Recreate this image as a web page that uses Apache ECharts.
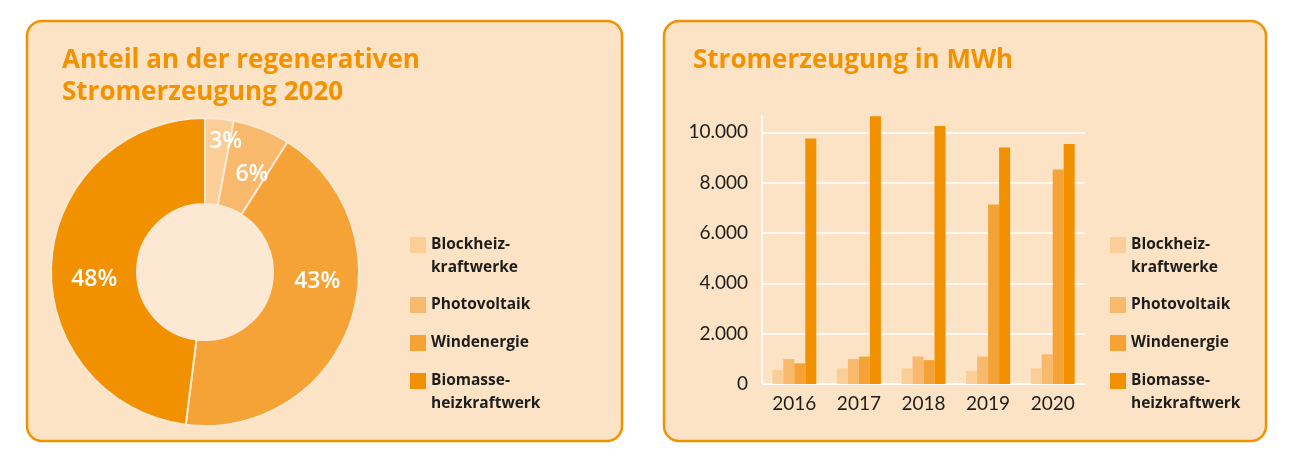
<!DOCTYPE html>
<html>
<head>
    <meta charset="utf-8">
    <title>Stromerzeugung</title>
    <script src="https://cdn.jsdelivr.net/npm/echarts@6/dist/echarts.min.js"></script>
    <style>
        html, body { margin: 0; padding: 0; background: #fff; }
        #main { width: 1293px; height: 457px; }
    </style>
</head>
<body>
<div id="main"></div>
<script>
    // Kategorien / Legende
    var sources = ['Blockheiz-\nkraftwerke', 'Photovoltaik', 'Windenergie', 'Biomasse-\nheizkraftwerk'];
    var colors = ['#FBCE97', '#F8B96C', '#F5A336', '#F29100'];

    // Anteil 2020 in Prozent (Ring)
    var shares2020 = [3, 6, 43, 48];

    // Stromerzeugung in MWh (Balken)
    var years = ['2016', '2017', '2018', '2019', '2020'];
    var bhkw = [560, 620, 620, 520, 620];
    var photovoltaik = [990, 990, 1090, 1090, 1180];
    var wind = [820, 1090, 950, 7130, 8520];
    var biomasse = [9760, 10640, 10250, 9400, 9540];
    var yTicks = [0, 2000, 4000, 6000, 8000, 10000];

    var barValues = [bhkw, photovoltaik, wind, biomasse];
    var headFont = '"Open Sans", Lato, sans-serif';
    var axisFont = 'Lato, "Open Sans", sans-serif';
    var dark = '#1d1d1b';

    var chart = echarts.init(document.getElementById('main'));

    // eine Legende pro Eintrag, damit das Kaestchen an der ersten Zeile steht
    var iconTops = [236, 296, 334, 372];
    var legends = [];
    [410, 1110].forEach(function (x) {
        sources.forEach(function (name, i) {
            var twoLines = name.indexOf('\n') >= 0;
            legends.push({
                data: [name],
                left: x,
                top: iconTops[i] - (twoLines ? 25.5 : 2.5),
                orient: 'vertical',
                padding: 0,
                itemWidth: 16,
                itemHeight: 16,
                selectedMode: false,
                icon: 'rect',
                // leere erste Zeile -> Kaestchen mittig zur ersten Textzeile
                formatter: function (n) { return twoLines ? '\n' + n : n; },
                textStyle: {
                    fontFamily: headFont,
                    fontSize: 15.5,
                    fontWeight: 'bold',
                    color: dark,
                    lineHeight: 23
                }
            });
        });
    });

    // Verschiebung der Prozentangaben wie im Original
    var labelShift = [[10, -17], [5, 8], [5, -29], [3, 15]];

    var series = [{
        type: 'pie',
        center: [205, 272],
        radius: [68, 154],
        startAngle: 90,
        clockwise: true,
        silent: true,
        itemStyle: { borderColor: '#FDE9D3', borderWidth: 2 },
        label: {
            position: 'inside',
            formatter: '{c}%',
            color: '#fff',
            fontFamily: headFont,
            fontSize: 23,
            fontWeight: 600
        },
        labelLine: { show: false },
        labelLayout: function (p) {
            var s = labelShift[p.dataIndex];
            return { dx: s[0], dy: s[1] };
        },
        data: sources.map(function (name, i) {
            return { name: name, value: shares2020[i], itemStyle: { color: colors[i] } };
        })
    }];

    sources.forEach(function (name, i) {
        series.push({
            type: 'bar',
            name: name,
            barWidth: 11,
            barGap: '0%',
            silent: true,
            itemStyle: { color: colors[i] },
            data: barValues[i]
        });
    });

    chart.setOption({
        animation: false,
        backgroundColor: '#fff',
        graphic: [
            { type: 'rect', z: -10, shape: { x: 27, y: 21, width: 595, height: 420, r: 15 },
              style: { fill: '#FDE3C5', stroke: '#F39200', lineWidth: 2.5 } },
            { type: 'rect', z: -10, shape: { x: 664, y: 21, width: 602, height: 420, r: 15 },
              style: { fill: '#FDE3C5', stroke: '#F39200', lineWidth: 2.5 } },
            { type: 'circle', z: -5, shape: { cx: 205, cy: 272, r: 68 },
              style: { fill: '#FDE9D3' } }
        ],
        title: [{
            text: 'Anteil an der regenerativen\nStromerzeugung 2020',
            left: 62, top: 44, padding: 0,
            textStyle: { fontFamily: headFont, fontSize: 26, fontWeight: 'bold', color: '#F39200', lineHeight: 32.5 }
        }, {
            text: 'Stromerzeugung in MWh',
            left: 693, top: 44, padding: 0,
            textStyle: { fontFamily: headFont, fontSize: 26, fontWeight: 'bold', color: '#F39200', lineHeight: 32.5 }
        }],
        legend: legends,
        grid: { left: 762, top: 116, width: 323, height: 268 },
        xAxis: {
            type: 'category',
            data: years,
            axisLine: { lineStyle: { color: '#fff', width: 1.5 } },
            axisTick: { show: false },
            axisLabel: { color: dark, fontFamily: axisFont, fontSize: 19, margin: 10 }
        },
        yAxis: {
            type: 'value',
            min: 0,
            max: 10650,
            interval: 2000,
            axisLine: { show: true, lineStyle: { color: '#fff', width: 1.5 } },
            axisTick: { show: false },
            splitLine: { lineStyle: { color: ['#fff', '#fff', '#fff', '#fff', '#fff', '#fff', 'rgba(0,0,0,0)'], width: 1.5 } },
            axisLabel: {
                color: dark, fontFamily: axisFont, fontSize: 19, margin: 14,
                showMaxLabel: false,
                formatter: function (v) {
                    if (yTicks.indexOf(v) < 0) return '';
                    return v.toLocaleString('de-DE');
                }
            }
        },
        series: series
    });
</script>
</body>
</html>
